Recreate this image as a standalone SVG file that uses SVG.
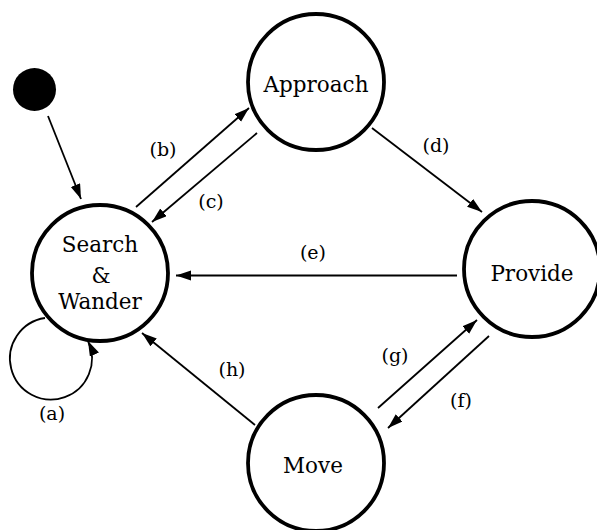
<svg xmlns="http://www.w3.org/2000/svg" width="597" height="530" viewBox="0 0 597 530">
<defs>
<marker id="ah" markerUnits="userSpaceOnUse" markerWidth="18" markerHeight="12" refX="15" refY="5" orient="auto">
<path d="M0,0 L15,5 L0,10 z" fill="#000"/>
</marker>
</defs>
<style>
.node{fill:#fff;stroke:#000;stroke-width:3.8}
.lbl{font-family:"DejaVu Serif","Liberation Serif",serif;font-size:21.5px;fill:#000;text-anchor:middle}
.el{font-family:"DejaVu Serif","Liberation Serif",serif;font-size:19px;fill:#000;text-anchor:middle}
.edge{fill:none;stroke:#000;stroke-width:1.8;marker-end:url(#ah)}
</style>
<rect width="597" height="530" fill="#fff"/>
<g id="start"><circle cx="34.5" cy="89.5" r="21.5" fill="#000"/></g>
<g id="search">
<circle class="node" cx="100" cy="273" r="68"/>
<text class="lbl" x="100" y="252">Search</text>
<text class="lbl" x="101" y="283">&amp;</text>
<text class="lbl" x="100" y="309">Wander</text>
</g>
<g id="approach">
<circle class="node" cx="316" cy="82" r="68"/>
<text class="lbl" x="316" y="92">Approach</text>
</g>
<g id="provide">
<circle class="node" cx="532" cy="269" r="68"/>
<text class="lbl" x="532" y="281">Provide</text>
</g>
<g id="move">
<circle class="node" cx="316" cy="463" r="68"/>
<text class="lbl" x="313" y="473">Move</text>
</g>
<g id="connectors">
<line class="edge" x1="48" y1="116" x2="81" y2="199"/>
<path class="edge" d="M45,318 A41,41 0 1 0 88,341"/>
<line class="edge" x1="136" y1="207" x2="249" y2="108"/>
<line class="edge" x1="257" y1="133" x2="152" y2="222"/>
<line class="edge" x1="372" y1="128" x2="482" y2="212"/>
<line class="edge" x1="457" y1="275.5" x2="176" y2="275.5"/>
<line class="edge" x1="489" y1="336" x2="388" y2="428"/>
<line class="edge" x1="378" y1="408" x2="477" y2="320"/>
<line class="edge" x1="255" y1="425" x2="142" y2="333"/>
</g>
<g id="labels">
<text class="el" x="52" y="420">(a)</text>
<text class="el" x="163" y="156">(b)</text>
<text class="el" x="211" y="208">(c)</text>
<text class="el" x="436" y="152">(d)</text>
<text class="el" x="313" y="259">(e)</text>
<text class="el" x="461" y="407">(f)</text>
<text class="el" x="395" y="362">(g)</text>
<text class="el" x="232" y="376">(h)</text>
</g>
</svg>
